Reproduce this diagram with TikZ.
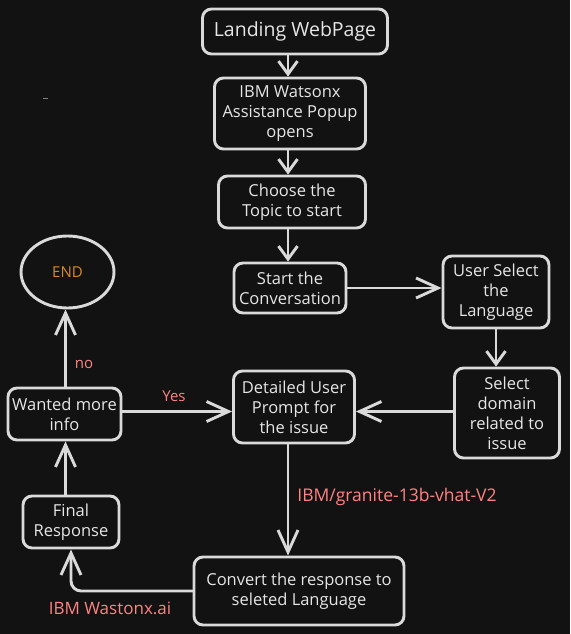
\documentclass[tikz,border=0pt]{standalone}
\usepackage{fontspec}
\setmainfont{Open Sans}
\usetikzlibrary{arrows.meta,shapes.geometric,positioning}
\definecolor{bggray}{HTML}{121212}
\definecolor{linegray}{HTML}{DADADA}
\definecolor{txtgray}{HTML}{E6E6E6}
\definecolor{lblred}{HTML}{FF8383}
\definecolor{endorange}{HTML}{D98A24}

\begin{document}
\begin{tikzpicture}[x=1pt,y=-1pt,
                    line/.style={line width=2.9pt, draw=linegray, line cap=round, line join=round},
                    box/.style={line, rounded corners=9pt, fill=bggray, text=txtgray, align=center,
                                font=\fontsize{16.5}{20}\selectfont, inner sep=0pt},
                    myarrow/.style={line, -{Straight Barb[length=13pt,width=19pt,line width=2.9pt]}},
                    bigarrow/.style={line, -{Straight Barb[length=22pt,width=20pt,line width=2.9pt]}},
                    mylabel/.style={text=lblred, font=\fontsize{16}{18}\selectfont},
                   ]

\fill[bggray] (0,0) rectangle (570,634);
\useasboundingbox (0,0) rectangle (570,634);

% boxes
\node[box, minimum width=185pt, minimum height=45pt, font=\fontsize{19.5}{24}\selectfont] (land) at (295,31.5) {Landing WebPage};
\node[box, minimum width=151pt, minimum height=71pt] (wats) at (290,113.5) {IBM Watsonx\\Assistance Popup\\opens};
\node[box, minimum width=147pt, minimum height=52pt] (chs) at (292,202) {Choose the\\Topic to start};
\node[box, minimum width=112pt, minimum height=50pt] (start) at (290,288) {Start the\\Conversation};
\node[box, minimum width=106pt, minimum height=72pt] (usr) at (496,292) {User Select\\the\\Language};
\node[box, minimum width=105pt, minimum height=90pt] (dom) at (507,413) {Select\\domain\\related to\\issue};
\node[box, minimum width=121pt, minimum height=72pt] (det) at (294,407) {Detailed User\\Prompt for\\the issue};
\node[box, minimum width=113pt, minimum height=52pt] (wnt) at (64.5,414) {Wanted more\\info};
\node[box, minimum width=96pt, minimum height=52pt] (fin) at (71,522) {Final\\Response};
\node[box, minimum width=210pt, minimum height=68pt] (conv) at (299,591) {Convert the response to\\seleted Language};
\node[box, ellipse, minimum width=93pt, minimum height=72pt, text=endorange, font=\fontsize{15}{18}\selectfont] (end) at (67.5,272) {END};

% labels
\node[mylabel, font=\fontsize{15}{18}\selectfont] (yes) at (174,396) {Yes};
\node[mylabel, font=\fontsize{15}{18}\selectfont] (no) at (84,364) {no};
\node[mylabel, font=\fontsize{17.5}{20}\selectfont] (granite) at (397,497) {IBM/granite-13b-vhat-V2};
\node[mylabel, font=\fontsize{17}{20}\selectfont] (watx) at (110,608) {IBM Wastonx.ai};

\draw[gray, line width=1pt] (43,98) -- (48,98);

% connectors
\coordinate (xa) at (288,0);
\coordinate (xb) at (65.5,0);
\coordinate (ya) at (0,411.5);

\draw[myarrow] (land.south -| xa) -- (wats.north -| xa);
\draw[myarrow] (wats.south -| xa) -- (chs.north -| xa);
\draw[myarrow] (chs.south -| xa) -- (start.north -| xa);
\draw[bigarrow] (start) -- (usr.west |- start);
\draw[myarrow] (usr) -- (usr.south |- dom.north);
\draw[bigarrow] (dom.west |- ya) -- (det.east |- ya);
\draw[bigarrow] (wnt.east |- ya) -- (det.west |- ya);
\draw[bigarrow] (det.south -| xa) -- (conv.north -| xa);
\draw[bigarrow] (wnt.north -| xb) -- (end.south -| xb);
\draw[bigarrow] (fin.north -| xb) -- (wnt.south -| xb);
\draw[bigarrow, rounded corners=10pt] (conv.west) -| (fin.south);

\end{tikzpicture}
\end{document}
